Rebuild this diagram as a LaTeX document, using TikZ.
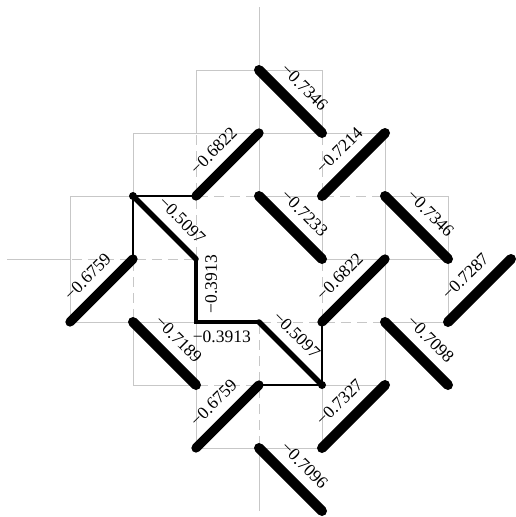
\documentclass[tikz,border=0pt]{standalone}
\usepackage{fontspec}
\setmainfont{Liberation Serif}
\begin{document}
\begin{tikzpicture}[x=1pt,y=-1pt,
  gl/.style={draw=black!22, line width=1pt},
  gd/.style={gl, dash pattern=on 10pt off 6pt, dash phase=-2pt},
  chain/.style={draw=black, line width=1.8pt},
  bw/.style={draw=black, line cap=round, line width=#1},
  dotn/.style={circle, fill=black, inner sep=0pt, minimum size=8pt},
  lab/.style={font=\fontsize{17.5}{20}\selectfont, inner sep=0pt, sloped}]
\useasboundingbox (0,0) rectangle (516,517);
\foreach \X in {0,...,7}{\foreach \Y in {0,...,8}{\coordinate (g\X\Y) at ({70+63*\X},{7+63*\Y});}}
\coordinate (axL) at (7,259);
% solid grey lines
\draw[gl] (g21) -- (g41);
\draw[gl] (g12) -- (g52);
\draw[gl] (g03) -- (g13);
\draw[gl] (g33) -- (g43);
\draw[gl] (g53) -- (g63);
\draw[gl] (g44) -- (g64);
\draw[gl] (axL) -- (g04);
\draw[gl] (g05) -- (g25);
\draw[gl] (g55) -- (g65);
\draw[gl] (g16) -- (g26);
\draw[gl] (g46) -- (g56);
\draw[gl] (g27) -- (g47);
\draw[gl] (g03) -- (g05);
\draw[gl] (g12) -- (g13);
\draw[gl] (g15) -- (g16);
\draw[gl] (g21) -- (g22);
\draw[gl] (g25) -- (g27);
\draw[gl] (g30) -- (g33);
\draw[gl] (g37) -- (g38);
\draw[gl] (g41) -- (g42);
\draw[gl] (g43) -- (g44);
\draw[gl] (g46) -- (g47);
\draw[gl] (g52) -- (g56);
\draw[gl] (g63) -- (g65);
% dashed grey lines
\draw[gd] (g23) -- (g33);
\draw[gd] (g43) -- (g53);
\draw[gd] (g04) -- (g24);
\draw[gd] (g35) -- (g55);
\draw[gd] (g26) -- (g36);
\draw[gd] (g14) -- (g15);
\draw[gd] (g22) -- (g24);
\draw[gd] (g35) -- (g37);
\draw[gd] (g42) -- (g43);
\draw[gd] (g44) -- (g45);
% thin black chain lines
\draw[chain] (g23) -- (g13) -- (g14);
\draw[chain] (g45) -- (g46) -- (g36);
\node[dotn] (d1) at (g13) {};
\node[dotn] (d2) at (g46) {};
% bonds
\draw[bw=10pt] (g31) -- node[lab, above=9pt] {−0.7346} (g42);
\draw[bw=9.3pt] (g23) -- node[lab, above=9pt] {−0.6822} (g32);
\draw[bw=10pt] (g43) -- node[lab, above=9pt] {−0.7214} (g52);
\draw[bw=10pt] (g33) -- node[lab, above=9pt] {−0.7233} (g44);
\draw[bw=10pt] (g53) -- node[lab, above=9pt] {−0.7346} (g64);
\draw[bw=5.5pt] (g13) -- node[lab, above=9pt, pos=0.58] {−0.5097} (g24);
\draw[bw=9.3pt] (g05) -- node[lab, above=9pt] {−0.6759} (g14);
\draw[draw=black, line width=4.5pt, line cap=round, line join=miter] (g24) -- (g25) -- (g35);
\path (g25) -- node[lab, below=9pt, pos=0.6] {−0.3913} (g24);
\path (g25) -- node[lab, below=9pt, pos=0.41] {−0.3913} (g35);
\draw[bw=5.5pt] (g35) -- node[lab, above=9pt, pos=0.4] {−0.5097} (g46);
\draw[bw=9.3pt] (g45) -- node[lab, above=9pt] {−0.6822} (g54);
\draw[bw=10pt] (g65) -- node[lab, above=9pt] {−0.7287} (g74);
\draw[bw=10pt] (g15) -- node[lab, above=9pt] {−0.7189} (g26);
\draw[bw=10pt] (g55) -- node[lab, above=9pt] {−0.7098} (g66);
\draw[bw=9.3pt] (g27) -- node[lab, above=9pt] {−0.6759} (g36);
\draw[bw=10pt] (g47) -- node[lab, above=9pt] {−0.7327} (g56);
\draw[bw=10pt] (g37) -- node[lab, above=9pt] {−0.7096} (g48);
\end{tikzpicture}
\end{document}
